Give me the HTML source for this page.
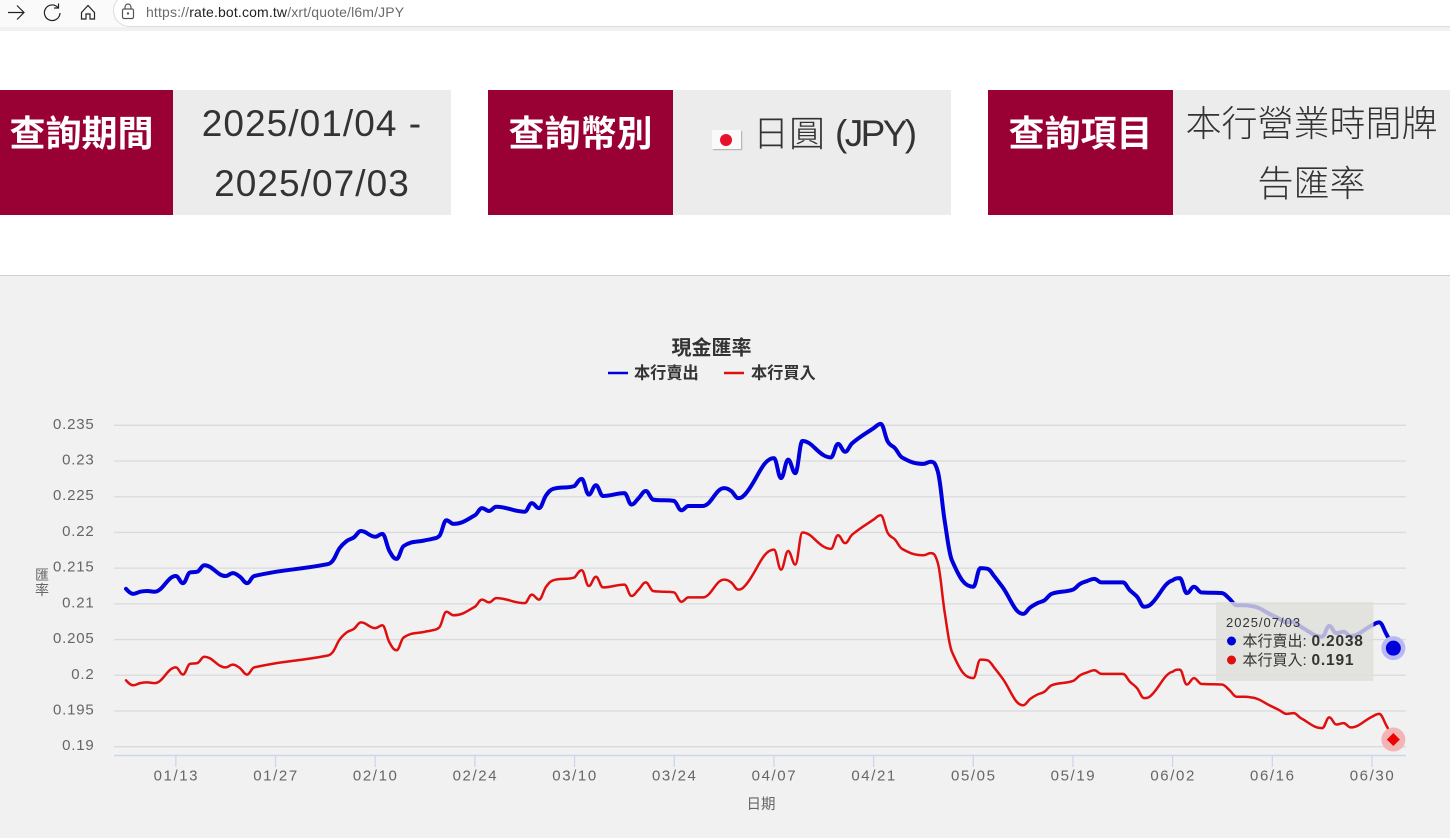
<!DOCTYPE html>
<html lang="zh-Hant">
<head>
<meta charset="utf-8">
<title>日圓匯率</title>
<style>
html,body{margin:0;padding:0;background:#fff;}
#page{position:relative;width:1450px;height:838px;overflow:hidden;background:#fff;font-family:"Liberation Sans","Noto Sans CJK TC",sans-serif;}
.abs{position:absolute;}
.label{position:absolute;top:90px;height:125px;background:#990033;color:#fff;font-weight:700;font-size:36px;line-height:88px;text-align:center;box-sizing:border-box;}
.value{position:absolute;top:90px;height:125px;background:#ececec;color:#333;font-size:36px;line-height:60px;text-align:center;font-weight:300;box-sizing:border-box;padding-top:4px;}
.value .num{font-size:37px;letter-spacing:1.05px;}
.value .jpy{font-size:37px;letter-spacing:-2.6px;}
svg text{font-family:"Liberation Sans","Noto Sans CJK TC",sans-serif;}
</style>
</head>
<body>
<div id="page">

  <div class="abs" style="left:0;top:0;width:1450px;height:27px;background:#fafafa;"></div>
  <div class="abs" style="left:0;top:27px;width:1450px;height:4px;background:#f1f1f1;"></div>
  <div class="abs" style="left:113px;top:-6px;width:1370px;height:33px;background:#fff;border:1px solid #dcdcdc;border-radius:17px;box-sizing:border-box;"></div>
  <svg class="abs" style="left:0;top:0" width="140" height="28" viewBox="0 0 140 28" fill="none" stroke="#222" stroke-width="1.2">
    <g><path d="M8 12.5H24M17 5.5l7 7-7 7"/></g>
    <g><path d="M58 7.5A7.8 7.8 0 1 0 60 13"/><path d="M58.5 3.5v4.5h-4.5"/></g>
    <g><path d="M81.500 12.500L88 5.500l6.500 7V19h-4.500v-5h-4v5h-4.500z"/></g>
    <g stroke="#555" transform="translate(0,1)"><rect x="122.500" y="8" width="11" height="9.500" rx="1.500"/><path d="M125 8V6a3 3 0 0 1 6 0v2"/><circle cx="128" cy="12.500" r=".6"/></g>
  </svg>
  <div class="abs" style="left:146px;top:4px;font-size:14px;line-height:16px;color:#6a6a6a;white-space:nowrap;letter-spacing:.15px;">https://<span style="color:#222">rate.bot.com.tw</span>/xrt/quote/l6m/JPY</div>

  <div class="label" style="left:0;width:173px;padding-right:10px;">查詢期間</div>
  <div class="value" style="left:173px;width:278px;"><span class="num">2025/01/04 -</span><br><span class="num">2025/07/03</span></div>

  <div class="label" style="left:488px;width:185px;">查詢幣別</div>
  <div class="value" style="left:673px;width:278px;">
    <div class="abs" style="left:39px;top:40px;width:29px;height:19px;background:#fafafa;box-shadow:1px 1px 1px #aaa;">
      <div style="position:absolute;left:8px;top:3.500px;width:12px;height:12px;border-radius:50%;background:#e8112d;"></div>
    </div>
    <div class="abs" style="left:80px;top:14px;white-space:nowrap;line-height:60px;">日圓 <span class="jpy">(JPY)</span></div>
  </div>

  <div class="label" style="left:988px;width:185px;">查詢項目</div>
  <div class="value" style="left:1173px;width:277px;">本行營業時間牌<br>告匯率</div>

  <div class="abs" style="left:0;top:275px;width:1450px;height:563px;background:#f1f1f1;border-top:1px solid #cfcfcf;box-sizing:border-box;"></div>

  <svg id="chart" class="abs" style="left:0;top:0" width="1450" height="838" viewBox="0 0 1450 838">
    <text x="711.500" y="354.500" text-anchor="middle" font-size="20" font-weight="700" fill="#333">現金匯率</text>
    <line x1="608" y1="373" x2="628" y2="373" stroke="#0000dd" stroke-width="2.500"/>
    <text x="634" y="378.500" font-size="16.200" font-weight="700" fill="#333">本行賣出</text>
    <line x1="724" y1="373" x2="744" y2="373" stroke="#e00f0f" stroke-width="2.500"/>
    <text x="751" y="378.500" font-size="16.200" font-weight="700" fill="#333">本行買入</text>
    <text x="42" y="580" text-anchor="middle" font-size="14" fill="#666">匯</text>
    <text x="42" y="595" text-anchor="middle" font-size="14" fill="#666">率</text>
    <text x="761" y="809" text-anchor="middle" font-size="14.500" fill="#666">日期</text>
    <line x1="114" y1="755.500" x2="1406" y2="755.500" stroke="#ccd6eb" stroke-width="1.500"/>
    <g id="grid"></g>
    <g id="xticks"></g>
    <g id="series"></g>
    <g id="tooltip"></g>
    <g id="markers"></g>
  </svg>
</div>

<script>
const dates = ["01/06","01/07","01/08","01/09","01/10","01/13","01/14","01/15","01/16","01/17","01/20","01/21","01/22","01/23","01/24",
"02/03","02/04","02/05","02/06","02/07","02/08","02/10","02/11","02/12","02/13","02/14","02/17","02/18","02/19","02/20","02/21",
"02/24","02/25","02/26","02/27","03/03","03/04","03/05","03/06","03/07","03/10","03/11","03/12","03/13","03/14",
"03/17","03/18","03/19","03/20","03/21","03/24","03/25","03/26","03/27","03/28","03/31","04/01","04/02","04/03",
"04/07","04/08","04/09","04/10","04/11","04/14","04/15","04/16","04/17","04/18","04/21","04/22","04/23","04/24","04/25",
"04/28","04/29","04/30","05/01","05/02","05/05","05/06","05/07","05/08","05/09","05/12","05/13","05/14","05/15","05/16",
"05/19","05/20","05/21","05/22","05/23","05/26","05/27","05/28","05/29","05/30","06/02","06/03","06/04","06/05","06/06",
"06/09","06/10","06/11","06/12","06/13","06/16","06/17","06/18","06/19","06/20","06/23","06/24","06/25","06/26","06/27",
"06/30","07/01","07/02","07/03"];
const sellRates = [.2121,.2114,.2117,.2118,.2117,.2139,.2129,.2144,.2145,.2154,.2139,.2143,.2138,.2129,.2139,
.2155,.2160,.2178,.2188,.2193,.2202,.2194,.2198,.2174,.2163,.2181,.2189,.2191,.2195,.2217,.2212,
.2224,.2234,.2230,.2236,.2229,.2241,.2234,.2252,.2261,.2265,.2275,.2253,.2266,.2251,
.2255,.2239,.2248,.2258,.2246,.2244,.2231,.2237,.2237,.2237,.2262,.2258,.2248,.2254,
.2304,.2276,.2302,.2283,.2328,.2308,.2305,.2324,.2313,.2325,.2346,.2352,.2327,.2318,.2305,
.2296,.2299,.2286,.2215,.2161,.2124,.2150,.2149,.2138,.2125,.2086,.2095,.2101,.2105,.2114,
.2120,.2128,.2132,.2135,.2130,.2130,.2119,.2110,.2096,.2100,.2133,.2136,.2115,.2124,.2116,
.2115,.2107,.2098,.2098,.2097,.2084,.2079,.2074,.2075,.2068,.2054,.2069,.2059,.2061,.2055,
.2070,.2074,.2058,.2038];
const buyRates = [.1993,.1986,.1989,.1990,.1989,.2011,.2001,.2016,.2017,.2026,.2011,.2015,.2010,.2001,.2011,
.2027,.2032,.2050,.2060,.2065,.2074,.2066,.2070,.2046,.2035,.2053,.2061,.2063,.2067,.2089,.2084,
.2096,.2106,.2102,.2108,.2101,.2113,.2106,.2124,.2133,.2137,.2147,.2125,.2138,.2123,
.2127,.2111,.2120,.2130,.2118,.2116,.2103,.2109,.2109,.2109,.2134,.2130,.2120,.2126,
.2176,.2148,.2174,.2155,.2200,.2180,.2177,.2196,.2185,.2197,.2218,.2224,.2199,.2190,.2177,
.2168,.2171,.2158,.2087,.2033,.1996,.2022,.2021,.2010,.1997,.1958,.1967,.1973,.1977,.1986,
.1992,.2000,.2004,.2007,.2002,.2002,.1991,.1982,.1968,.1972,.2005,.2008,.1987,.1996,.1988,
.1987,.1979,.1970,.1970,.1969,.1956,.1951,.1946,.1947,.1940,.1926,.1941,.1931,.1933,.1927,
.1942,.1946,.1930,.1910];
const yTickValues = [0.19,0.195,0.2,0.205,0.21,0.215,0.22,0.225,0.23,0.235];
const yTickLabels = ["0.19","0.195","0.2","0.205","0.21","0.215","0.22","0.225","0.23","0.235"];
const xTickLabels = ["01/13","01/27","02/10","02/24","03/10","03/24","04/07","04/21","05/05","05/19","06/02","06/16","06/30"];
const tooltipDate = "2025/07/03";

const SVGNS = "http://www.w3.org/2000/svg";
function make(tag, attrs, parent, text) {
  const el = document.createElementNS(SVGNS, tag);
  for (const k in attrs) el.setAttribute(k, attrs[k]);
  if (text !== undefined) el.textContent = text;
  parent.appendChild(el);
  return el;
}
function dayOffset(md) {
  const p = md.split("/");
  return (Date.UTC(2025, +p[0] - 1, +p[1]) - Date.UTC(2025, 0, 6)) / 86400000;
}
function xScale(md) { return 126 + 7.12 * dayOffset(md); }
function yScale(v) { return 746.7 - (v - 0.19) * 7142; }

function splinePath(values) {
  const pts = values.map((v, i) => [xScale(dates[i]), yScale(v)]);
  const s = 1.5, den = s + 1;
  let d = "M" + pts[0][0].toFixed(2) + " " + pts[0][1].toFixed(2);
  const ctrl = i => {
    const p = pts[i], a = pts[i - 1], b = pts[i + 1];
    if (!a || !b) return [p, p];
    let lx = (s * p[0] + a[0]) / den, ly = (s * p[1] + a[1]) / den;
    let rx = (s * p[0] + b[0]) / den, ry = (s * p[1] + b[1]) / den;
    if (rx !== lx) {
      const c = (ry - ly) * (rx - p[0]) / (rx - lx) + p[1] - ry;
      ly += c; ry += c;
      if (ly > a[1] && ly > p[1]) { ly = Math.max(a[1], p[1]); ry = 2 * p[1] - ly; }
      else if (ly < a[1] && ly < p[1]) { ly = Math.min(a[1], p[1]); ry = 2 * p[1] - ly; }
      if (ry > b[1] && ry > p[1]) { ry = Math.max(b[1], p[1]); ly = 2 * p[1] - ry; }
      else if (ry < b[1] && ry < p[1]) { ry = Math.min(b[1], p[1]); ly = 2 * p[1] - ry; }
    }
    return [[lx, ly], [rx, ry]];
  };
  for (let i = 1; i < pts.length; i++) {
    const c1 = ctrl(i - 1)[1], c2 = ctrl(i)[0];
    d += "C" + c1[0].toFixed(2) + " " + c1[1].toFixed(2) + " " + c2[0].toFixed(2) + " " + c2[1].toFixed(2) + " " + pts[i][0].toFixed(2) + " " + pts[i][1].toFixed(2);
  }
  return d;
}

const gridG = document.getElementById("grid");
yTickValues.forEach((v, i) => {
  const y = yScale(v);
  const line = make("line", {x1: 114, x2: 1406, y1: y, y2: y, stroke: "#dadada", "stroke-width": 1.3}, gridG);
  
  
  const t = make("text", {x: 94.500, y: y + 3.500, "text-anchor": "end", "font-size": 15, "letter-spacing": 0.8, fill: "#666"}, gridG, yTickLabels[i]);
  
  
});

const xG = document.getElementById("xticks");
xTickLabels.forEach(lbl => {
  const x = xScale(lbl);
  const tick = make("line", {x1: x, x2: x, y1: 755.500, y2: 767, stroke: "#ccd6eb", "stroke-width": 1.300}, xG);
  
  
  const t = make("text", {x: x + 0.500, y: 780.500, "text-anchor": "middle", "font-size": 15, "letter-spacing": 1.600, fill: "#666"}, xG, lbl);
  
  
});

const sG = document.getElementById("series");
const sellLine = make("path", {d: splinePath(sellRates), fill: "none", stroke: "#0000dd", "stroke-width": 4, "stroke-linejoin": "round", "stroke-linecap": "round"}, sG);


const buyLine = make("path", {d: splinePath(buyRates), fill: "none", stroke: "#e00f0f", "stroke-width": 2.500, "stroke-linejoin": "round", "stroke-linecap": "round"}, sG);



const last = dates.length - 1;
const tipG = document.getElementById("tooltip");
const tipBox = make("rect", {x: 1216, y: 602, width: 157.500, height: 79, fill: "rgba(222,222,218,.8)"}, tipG);


const tipDate = make("text", {x: 1226, y: 627, "font-size": 13, "letter-spacing": 1, fill: "#333"}, tipG, tooltipDate);


const tipDot1 = make("circle", {cx: 1231.500, cy: 641, r: 4.500, fill: "#0000dd"}, tipG);


const tipText1 = make("text", {x: 1242.500, y: 646, "font-size": 15, fill: "#333"}, tipG, "本行賣出: ");


const tipVal1 = make("text", {x: 1311.500, y: 646, "font-size": 15.5, "font-weight": 700, "letter-spacing": 0.8, fill: "#333"}, tipG, String(sellRates[last]));


const tipDot2 = make("circle", {cx: 1231.500, cy: 660, r: 4.500, fill: "#e00f0f"}, tipG);


const tipText2 = make("text", {x: 1242.500, y: 665, "font-size": 15, fill: "#333"}, tipG, "本行買入: ");


const tipVal2 = make("text", {x: 1311.500, y: 665, "font-size": 15.5, "font-weight": 700, "letter-spacing": 0.8, fill: "#333"}, tipG, String(buyRates[last]));



const mG = document.getElementById("markers");
const mx = xScale(dates[last]), my1 = yScale(sellRates[last]), my2 = yScale(buyRates[last]);
const halo1 = make("circle", {cx: mx, cy: my1, r: 12, fill: "#b8b8f2"}, mG);


const dot1 = make("circle", {cx: mx, cy: my1, r: 7.500, fill: "#0000dd"}, mG);


const halo2 = make("circle", {cx: mx, cy: my2, r: 12, fill: "#f2b4b4"}, mG);


const dia = make("path", {d: "M" + mx + " " + (my2 - 6.500) + "l6.500 6.500l-6.500 6.500l-6.500 -6.500z", fill: "#ee0000"}, mG);


</script>
</body>
</html>
